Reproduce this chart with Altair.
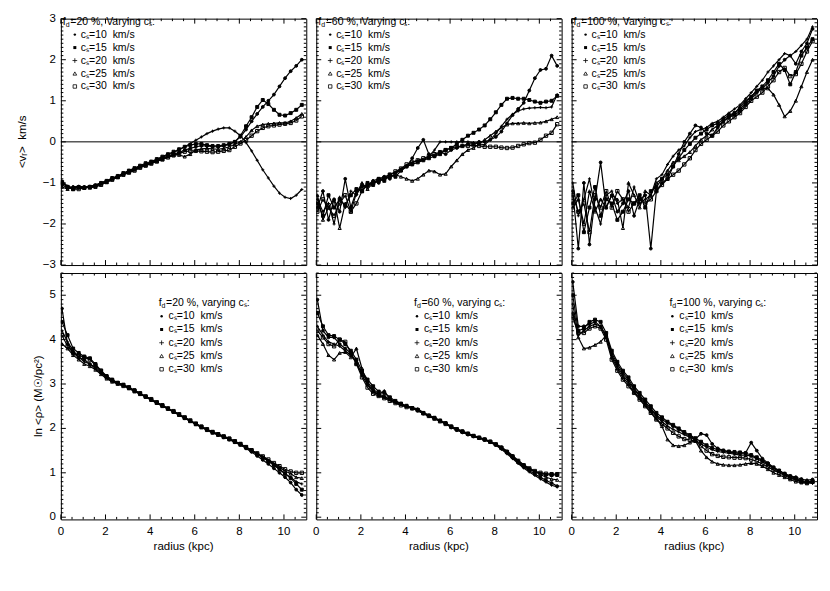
import altair as alt
import pandas as pd

FONT = "Liberation Sans"

# radius sampling (kpc)
R = [0.05, 0.30, 0.55, 0.80, 1.05, 1.30, 1.55, 1.80, 2.05, 2.30, 2.55, 2.80,
     3.05, 3.30, 3.55, 3.80, 4.05, 4.30, 4.55, 4.80, 5.05, 5.30, 5.55, 5.80,
     6.05, 6.30, 6.55, 6.80, 7.05, 7.30, 7.55, 7.80, 8.05, 8.30, 8.55, 8.80,
     9.05, 9.30, 9.55, 9.80, 10.05, 10.30, 10.55, 10.80]

SPEEDS = [10, 15, 20, 25, 30]
FDS = [20, 60, 100]

# ---------- <v_r> (km/s), f_d = 20 % ----------
VR20_10 = [-1.05, -1.12, -1.10, -1.12, -1.10, -1.10, -1.07, -1.02, -0.96, -0.90, -0.85, -0.78,
           -0.73, -0.66, -0.60, -0.56, -0.50, -0.45, -0.40, -0.35, -0.30, -0.26, -0.20, -0.16,
           -0.12, -0.10, -0.10, -0.12, -0.12, -0.10, -0.06, 0.00, 0.12, 0.30, 0.50, 0.68,
           0.85, 1.00, 1.15, 1.35, 1.55, 1.72, 1.85, 2.00]
VR20_15 = [-1.00, -1.10, -1.15, -1.10, -1.12, -1.10, -1.06, -1.00, -0.95, -0.88, -0.83, -0.76,
           -0.70, -0.64, -0.58, -0.52, -0.48, -0.42, -0.36, -0.30, -0.24, -0.18, -0.12, -0.08,
           -0.05, -0.05, -0.08, -0.10, -0.10, -0.08, -0.05, 0.00, 0.15, 0.38, 0.60, 0.85,
           1.02, 0.92, 0.78, 0.66, 0.64, 0.70, 0.78, 0.90]
VR20_20 = [-0.95, -1.08, -1.12, -1.10, -1.10, -1.08, -1.05, -1.00, -0.95, -0.90, -0.84, -0.78,
           -0.72, -0.65, -0.60, -0.55, -0.50, -0.44, -0.38, -0.32, -0.26, -0.20, -0.12, -0.04,
           0.04, 0.12, 0.20, 0.26, 0.31, 0.34, 0.34, 0.26, 0.15, -0.02, -0.22, -0.45,
           -0.68, -0.88, -1.08, -1.25, -1.35, -1.38, -1.30, -1.16]
VR20_25 = [-1.10, -1.15, -1.10, -1.08, -1.10, -1.12, -1.10, -1.05, -0.98, -0.92, -0.86, -0.80,
           -0.74, -0.68, -0.62, -0.57, -0.52, -0.47, -0.42, -0.36, -0.32, -0.32, -0.36, -0.30,
           -0.20, -0.17, -0.16, -0.17, -0.18, -0.16, -0.12, -0.06, 0.00, 0.12, 0.28, 0.38,
           0.42, 0.44, 0.45, 0.46, 0.46, 0.50, 0.58, 0.68]
VR20_30 = [-0.98, -1.10, -1.15, -1.15, -1.12, -1.10, -1.08, -1.04, -0.98, -0.92, -0.86, -0.80,
           -0.75, -0.70, -0.63, -0.58, -0.53, -0.48, -0.43, -0.38, -0.33, -0.28, -0.24, -0.22,
           -0.22, -0.23, -0.24, -0.25, -0.24, -0.22, -0.20, -0.12, -0.04, 0.04, 0.15, 0.26,
           0.34, 0.38, 0.40, 0.42, 0.44, 0.46, 0.52, 0.62]

# ---------- <v_r> (km/s), f_d = 60 % ----------
VR60_10 = [-1.6, -1.2, -1.9, -1.4, -1.7, -0.9, -1.6, -1.2, -1.1, -1.05, -0.95, -1.0,
           -0.85, -0.9, -0.75, -0.7, -0.6, -0.4, -0.15, 0.05, -0.3, -0.35, -0.25, -0.3,
           -0.2, -0.15, -0.1, -0.05, -0.05, 0.0, 0.0, 0.05, 0.12, 0.25, 0.45, 0.65,
           0.8, 0.95, 1.25, 1.55, 1.75, 1.78, 2.1, 1.85]
VR60_15 = [-1.5, -1.8, -1.3, -1.6, -1.4, -1.55, -1.3, -1.15, -1.2, -1.0, -1.05, -0.9,
           -0.95, -0.8, -0.85, -0.7, -0.6, -0.55, -0.5, -0.45, -0.4, -0.35, -0.3, -0.2,
           -0.15, -0.05, 0.05, 0.15, 0.22, 0.3, 0.4, 0.55, 0.72, 0.9, 1.05, 1.07,
           1.05, 1.05, 1.02, 0.98, 0.95, 0.98, 1.0, 1.12]
VR60_20 = [-1.4, -1.7, -1.5, -2.0, -1.35, -1.6, -1.2, -1.3, -1.05, -1.1, -0.95, -0.9,
           -0.85, -0.8, -0.75, -0.65, -0.6, -0.5, -0.45, -0.45, -0.35, -0.2, 0.0, 0.0,
           0.0, 0.0, 0.0, 0.0, -0.02, -0.05, -0.07, 0.05, 0.2, 0.38, 0.55, 0.67,
           0.75, 0.8, 0.82, 0.83, 0.84, 0.83, 0.85, 1.15]
VR60_25 = [-1.3, -1.9, -1.6, -1.4, -2.1, -1.5, -1.7, -1.25, -1.0, -1.15, -1.0, -0.95,
           -0.9, -0.85, -0.8, -0.85, -0.9, -0.95, -0.9, -0.8, -0.7, -0.72, -0.8, -0.78,
           -0.6, -0.45, -0.3, -0.2, -0.15, -0.05, 0.05, 0.15, 0.25, 0.35, 0.42, 0.45,
           0.45, 0.46, 0.45, 0.46, 0.47, 0.5, 0.55, 0.6]
VR60_30 = [-1.7, -1.4, -1.6, -1.8, -1.5, -1.3, -1.7, -1.5, -1.2, -1.05, -1.0, -0.92,
           -0.88, -0.8, -0.72, -0.65, -0.55, -0.5, -0.45, -0.4, -0.35, -0.3, -0.25, -0.2,
           -0.15, -0.12, -0.1, -0.1, -0.08, -0.1, -0.12, -0.12, -0.12, -0.14, -0.15, -0.14,
           -0.1, -0.06, -0.03, -0.02, 0.05, 0.15, 0.22, 0.43]

# ---------- <v_r> (km/s), f_d = 100 % ----------
VR100_10 = [-1.2, -2.6, -1.0, -2.5, -1.4, -0.5, -1.6, -1.3, -1.7, -1.5, -1.2, -1.8,
            -1.4, -1.3, -2.6, -1.2, -1.0, -0.9, -0.6, -0.3, 0.0, 0.2, 0.4, 0.35,
            0.2, 0.15, 0.35, 0.5, 0.6, 0.65, 0.75, 0.9, 1.05, 1.2, 1.3, 1.45,
            1.6, 1.85, 2.0, 2.1, 1.9, 2.2, 2.4, 2.75]
VR100_15 = [-1.5, -1.3, -2.2, -1.6, -1.1, -1.8, -1.4, -1.5, -1.9, -1.7, -1.4, -1.5,
            -1.3, -1.6, -1.2, -1.1, -0.9, -0.8, -0.6, -0.4, -0.2, -0.05, 0.1, 0.2,
            0.3, 0.4, 0.45, 0.55, 0.65, 0.7, 0.8, 0.95, 1.1, 1.25, 1.35, 1.5,
            1.7, 1.9, 1.75, 1.4, 1.7, 2.1, 2.3, 2.5]
VR100_20 = [-1.0, -1.8, -1.4, -0.9, -1.6, -2.0, -1.3, -1.2, -1.5, -1.4, -1.6, -1.1,
            -1.5, -1.4, -1.3, -0.9, -0.8, -0.55, -0.35, -0.2, -0.1, 0.1, 0.25, 0.3,
            0.35, 0.45, 0.5, 0.6, 0.7, 0.8, 0.9, 1.05, 1.2, 1.35, 1.5, 1.7,
            1.85, 2.0, 2.15, 2.1, 2.2, 2.35, 2.5, 2.8]
VR100_25 = [-1.6, -1.4, -2.0, -1.2, -1.7, -1.4, -1.6, -1.3, -1.4, -2.1, -1.0, -1.3,
            -1.6, -1.2, -1.3, -1.0, -0.9, -0.7, -0.5, -0.45, -0.35, -0.25, -0.1, 0.05,
            0.15, 0.3, 0.4, 0.5, 0.6, 0.7, 0.85, 1.0, 1.1, 1.25, 1.3, 1.3,
            1.15, 0.9, 0.62, 0.75, 1.0, 1.35, 1.7, 2.0]
VR100_30 = [-1.3, -1.7, -1.5, -2.2, -1.3, -1.6, -1.2, -1.6, -1.2, -1.4, -1.7, -1.5,
            -1.4, -1.5, -1.4, -1.2, -1.05, -0.9, -0.8, -0.7, -0.55, -0.4, -0.2, -0.05,
            0.05, 0.15, 0.25, 0.4, 0.5, 0.6, 0.7, 0.85, 1.0, 1.1, 1.2, 1.35,
            1.5, 1.7, 1.8, 1.6, 1.65, 1.9, 2.2, 2.45]

# ---------- ln <rho>, f_d = 20 % ----------
LR20_10 = [4.7, 3.9, 3.7, 3.6, 3.55, 3.45, 3.35, 3.25, 3.15, 3.08, 3.02, 2.97,
           2.91, 2.85, 2.78, 2.71, 2.64, 2.57, 2.51, 2.44, 2.37, 2.3, 2.23, 2.17,
           2.1, 2.03, 1.97, 1.91, 1.86, 1.8, 1.75, 1.69, 1.63, 1.55, 1.47, 1.38,
           1.29, 1.2, 1.1, 1.0, 0.9, 0.78, 0.62, 0.5]
LR20_15 = [4.4, 4.1, 3.8, 3.7, 3.62, 3.58, 3.45, 3.3, 3.18, 3.1, 3.03, 2.98,
           2.93, 2.86, 2.79, 2.72, 2.65, 2.58, 2.52, 2.45, 2.38, 2.31, 2.24, 2.17,
           2.1, 2.04, 1.98, 1.92, 1.87, 1.82, 1.77, 1.71, 1.65, 1.58, 1.5, 1.42,
           1.34, 1.26, 1.17, 1.08, 0.98, 0.88, 0.75, 0.62]
LR20_20 = [4.2, 3.95, 3.75, 3.6, 3.5, 3.45, 3.38, 3.27, 3.14, 3.06, 3.01, 2.96,
           2.91, 2.84, 2.78, 2.72, 2.65, 2.58, 2.51, 2.45, 2.38, 2.31, 2.24, 2.17,
           2.1, 2.03, 1.97, 1.91, 1.86, 1.81, 1.76, 1.7, 1.64, 1.57, 1.5, 1.42,
           1.35, 1.27, 1.18, 1.08, 0.98, 0.9, 0.8, 0.75]
LR20_25 = [3.9, 3.8, 3.65, 3.55, 3.45, 3.4, 3.32, 3.22, 3.12, 3.05, 3.0, 2.95,
           2.9, 2.83, 2.77, 2.71, 2.64, 2.57, 2.5, 2.44, 2.37, 2.3, 2.23, 2.16,
           2.09, 2.02, 1.96, 1.9, 1.85, 1.8, 1.75, 1.69, 1.63, 1.57, 1.5, 1.43,
           1.36, 1.28, 1.2, 1.12, 1.04, 0.98, 0.9, 0.88]
LR20_30 = [4.1, 3.85, 3.7, 3.65, 3.6, 3.55, 3.42, 3.3, 3.16, 3.08, 3.02, 2.98,
           2.92, 2.85, 2.79, 2.72, 2.66, 2.59, 2.52, 2.45, 2.39, 2.32, 2.25, 2.18,
           2.11, 2.04, 1.98, 1.92, 1.87, 1.82, 1.77, 1.71, 1.65, 1.58, 1.51, 1.44,
           1.37, 1.3, 1.22, 1.15, 1.08, 1.03, 1.0, 1.0]

# ---------- ln <rho>, f_d = 60 % ----------
LR60_10 = [4.9, 4.2, 4.05, 4.05, 3.9, 3.8, 3.7, 3.45, 3.25, 3.05, 2.88, 2.78,
           2.72, 2.66, 2.6, 2.55, 2.5, 2.45, 2.4, 2.34, 2.28, 2.23, 2.17, 2.11,
           2.02, 1.96, 1.91, 1.86, 1.82, 1.78, 1.74, 1.69, 1.63, 1.55, 1.45, 1.34,
           1.23, 1.13, 1.05, 0.97, 0.9, 0.83, 0.77, 0.7]
LR60_15 = [4.6, 4.3, 4.1, 4.08, 4.0, 3.9, 3.75, 3.55, 3.3, 3.1, 2.95, 2.83,
           2.8, 2.7, 2.62, 2.56, 2.51, 2.46, 2.42, 2.35, 2.29, 2.24, 2.18, 2.12,
           2.04, 1.98, 1.93, 1.88, 1.83, 1.79, 1.75, 1.7, 1.64, 1.57, 1.47, 1.36,
           1.25, 1.15, 1.08, 1.02, 0.98, 0.96, 0.95, 0.95]
LR60_20 = [4.3, 4.1, 3.95, 3.9, 3.85, 3.75, 3.65, 3.5, 3.2, 2.98, 2.82, 2.75,
           2.85, 2.65, 2.58, 2.53, 2.5, 2.47, 2.4, 2.33, 2.27, 2.22, 2.16, 2.1,
           2.03, 1.97, 1.92, 1.87, 1.82, 1.78, 1.74, 1.69, 1.62, 1.53, 1.43, 1.32,
           1.21, 1.11, 1.02, 0.94, 0.86, 0.79, 0.72, 0.68]
LR60_25 = [4.1, 3.9, 3.65, 3.55, 3.7, 3.72, 3.6, 3.8, 3.35, 3.0, 2.85, 2.75,
           2.7, 2.66, 2.6, 2.55, 2.5, 2.47, 2.44, 2.36, 2.3, 2.24, 2.18, 2.12,
           2.05, 1.99, 1.94, 1.89, 1.84, 1.8, 1.76, 1.71, 1.65, 1.58, 1.49, 1.39,
           1.28, 1.18, 1.1, 1.03, 0.96, 0.9, 0.86, 0.84]
LR60_30 = [4.2, 4.05, 3.9, 3.85, 4.0, 3.95, 3.7, 3.45, 3.15, 2.92, 2.78, 2.73,
           2.68, 2.62, 2.57, 2.52, 2.48, 2.45, 2.41, 2.34, 2.28, 2.22, 2.16, 2.1,
           2.04, 1.98, 1.93, 1.88, 1.83, 1.79, 1.75, 1.7, 1.64, 1.56, 1.47, 1.37,
           1.27, 1.17, 1.1, 1.04, 1.0, 0.98, 0.97, 0.97]

# ---------- ln <rho>, f_d = 100 % ----------
LR100_10 = [5.3, 4.3, 4.3, 4.35, 4.4, 4.3, 4.1, 3.7, 3.45, 3.25, 3.1, 2.9,
            2.75, 2.6, 2.45, 2.3, 2.2, 2.12, 2.05, 1.98, 1.9, 1.82, 1.76, 1.88,
            1.85, 1.65, 1.55, 1.5, 1.47, 1.45, 1.43, 1.45, 1.68, 1.5, 1.32, 1.22,
            1.12, 1.05, 0.98, 0.93, 0.9, 0.86, 0.83, 0.85]
LR100_15 = [5.0, 4.2, 4.25, 4.4, 4.45, 4.4, 4.15, 3.75, 3.5, 3.3, 3.15, 2.95,
            2.8, 2.65, 2.5, 2.35, 2.25, 2.15, 2.08, 2.0, 1.92, 1.85, 1.78, 1.7,
            1.62, 1.56, 1.52, 1.5, 1.48, 1.47, 1.46, 1.44, 1.4, 1.35, 1.28, 1.2,
            1.12, 1.05, 0.98, 0.92, 0.88, 0.82, 0.8, 0.8]
LR100_20 = [4.8, 4.1, 4.2, 4.3, 4.35, 4.3, 4.05, 3.65, 3.4, 3.2, 3.05, 2.88,
            2.72, 2.56, 2.42, 2.28, 2.15, 2.05, 1.98, 1.92, 1.86, 1.8, 1.74, 1.65,
            1.58, 1.52, 1.48, 1.46, 1.44, 1.42, 1.4, 1.4, 1.38, 1.32, 1.25, 1.17,
            1.1, 1.02, 0.96, 0.9, 0.85, 0.8, 0.78, 0.76]
LR100_25 = [4.6, 4.05, 3.8, 3.82, 3.88, 3.95, 4.1, 3.6, 3.35, 3.15, 3.0, 2.82,
            2.68, 2.52, 2.38, 2.22, 2.05, 1.75, 1.62, 1.6, 1.62, 1.68, 1.72, 1.5,
            1.35, 1.25, 1.2, 1.18, 1.17, 1.17, 1.18, 1.2, 1.22, 1.2, 1.15, 1.08,
            1.0, 0.95, 0.9, 0.85, 0.8, 0.78, 0.76, 0.8]
LR100_30 = [4.5, 4.15, 4.15, 4.25, 4.3, 4.25, 4.0, 3.55, 3.3, 3.1, 2.95, 2.8,
            2.65, 2.5, 2.35, 2.2, 2.1, 2.0, 1.9, 1.82, 1.76, 1.74, 1.72, 1.6,
            1.5, 1.42, 1.38, 1.36, 1.35, 1.34, 1.34, 1.33, 1.3, 1.26, 1.2, 1.13,
            1.06, 1.0, 0.94, 0.88, 0.84, 0.8, 0.78, 0.8]

VR = {20: [VR20_10, VR20_15, VR20_20, VR20_25, VR20_30],
      60: [VR60_10, VR60_15, VR60_20, VR60_25, VR60_30],
      100: [VR100_10, VR100_15, VR100_20, VR100_25, VR100_30]}
LR = {20: [LR20_10, LR20_15, LR20_20, LR20_25, LR20_30],
      60: [LR60_10, LR60_15, LR60_20, LR60_25, LR60_30],
      100: [LR100_10, LR100_15, LR100_20, LR100_25, LR100_30]}

ZERO = [0]
X_LABELS = [0, 2, 4, 6, 8, 10]
X_MAJOR = [0, 2, 4, 6, 8, 10]
X_MINOR = [0.5, 1, 1.5, 2.5, 3, 3.5, 4.5, 5, 5.5, 6.5, 7, 7.5, 8.5, 9, 9.5, 10.5]
TOP_Y_LABELS = [-3, -2, -1, 0, 1, 2, 3]
BOT_Y_LABELS = [0, 1, 2, 3, 4, 5]
TOP_Y_MINOR = [round(k * 0.1, 1) for k in range(-30, 31) if k % 10 != 0]
BOT_Y_MINOR = [round(k * 0.1, 1) for k in range(0, 56) if k % 10 != 0]
X_TITLE = "radius (kpc)"
TOP_Y_TITLE = "<vᵣ>\u00a0\u00a0km/s"
BOT_Y_TITLE = "ln\u00a0<ρ>\u00a0(M☉/pc²)"

SHAPES = ["circle", "square", "M-1,0L1,0M0,-1L0,1", "triangle-up", "square"]
FILLS = ["black", "black", "transparent", "transparent", "transparent"]
SIZES = [8, 11, 24, 16, 14]

W, H = 246, 247
LEG_FS = 10.5
AX_FS = 11.5
NB = "\u00a0"


def txt(s, x, y, size=LEG_FS, align="left", angle=0):
    return alt.Chart(pd.DataFrame({"s": [s]})).mark_text(
        align=align, baseline="middle", fontSize=size, font=FONT, color="black",
        angle=angle
    ).encode(text="s:N", x=alt.value(x), y=alt.value(y))


def legend_layers(x0, y0, dy, word, fd, mx, tx):
    L = [txt("f", x0, y0), txt("d", x0 + 3, y0 + 3, 7),
         txt(f"={fd}{NB}%,{NB}{word}{NB}cₛ:", x0 + 7.5, y0)]
    for k, cs in enumerate(SPEEDS):
        y = y0 + dy * (k + 1)
        L.append(alt.Chart(pd.DataFrame({"s": [cs]})).mark_point(
            shape=SHAPES[k], size=SIZES[k] - 2, filled=(k < 2), color="black",
            opacity=1, strokeWidth=0.8).encode(x=alt.value(x0 + mx), y=alt.value(y)))
        L.append(txt(f"cₛ={cs}{NB}{NB}km/s", x0 + tx, y))
    return L


def tick_layers(xs, ys, ymaj, ymin):
    L = []
    for vals, ln in ((X_MAJOR, 5), (X_MINOR, 2.5)):
        c = alt.Chart(pd.DataFrame({"r": vals}))
        ex = alt.X("r:Q", scale=xs, axis=None)
        L.append(c.mark_rule(color="black", strokeWidth=1).encode(
            x=ex, y=alt.value(H), y2=alt.value(H - ln)))
        L.append(c.mark_rule(color="black", strokeWidth=1).encode(
            x=ex, y=alt.value(0), y2=alt.value(ln)))
    for vals, ln in ((ymaj, 5), (ymin, 2.5)):
        c = alt.Chart(pd.DataFrame({"v": vals}))
        ey = alt.Y("v:Q", scale=ys, axis=None)
        L.append(c.mark_rule(color="black", strokeWidth=1).encode(
            y=ey, x=alt.value(0), x2=alt.value(ln)))
        L.append(c.mark_rule(color="black", strokeWidth=1).encode(
            y=ey, x=alt.value(W), x2=alt.value(W - ln)))
    return L


def minus(v):
    return str(v).replace("-", "\u2212")


def panel(fd, col, top):
    series = VR[fd] if top else LR[fd]
    rows = []
    for cs, vals in zip(SPEEDS, series):
        for r, v in zip(R, vals):
            rows.append({"r": r, "v": v, "cs": cs})
    df = pd.DataFrame(rows)
    xs = alt.Scale(domain=[0, 11], nice=False, zero=False)
    ys = alt.Scale(domain=[-3, 3] if top else [-0.05, 5.5], nice=False, zero=False)

    base = alt.Chart(df).encode(
        x=alt.X("r:Q", scale=xs, axis=None),
        y=alt.Y("v:Q", scale=ys, axis=None),
    )
    lines = base.mark_line(color="black", strokeWidth=1.2, clip=True).encode(
        detail="cs:N")
    pts = base.mark_point(opacity=1, strokeWidth=1, clip=True).encode(
        shape=alt.Shape("cs:O", scale=alt.Scale(domain=SPEEDS, range=SHAPES), legend=None),
        fill=alt.Fill("cs:O", scale=alt.Scale(domain=SPEEDS, range=FILLS), legend=None),
        size=alt.Size("cs:O", scale=alt.Scale(domain=SPEEDS, range=SIZES), legend=None),
        stroke=alt.value("black"),
    )
    layers = [lines, pts]
    if top:
        layers.append(alt.Chart(pd.DataFrame({"v": ZERO})).mark_rule(
            color="black", strokeWidth=1).encode(y=alt.Y("v:Q", scale=ys, axis=None)))
        layers += tick_layers(xs, ys, TOP_Y_LABELS, TOP_Y_MINOR)
        layers += legend_layers(2, 3, 13, "Varying", fd, 12, 18)
    else:
        layers += tick_layers(xs, ys, BOT_Y_LABELS, BOT_Y_MINOR)
        layers += legend_layers(98, 30, 13.3, "varying", fd, 3, 10)
        xl = pd.DataFrame({"r": X_LABELS, "lab": [str(v) for v in X_LABELS]})
        layers.append(alt.Chart(xl).mark_text(
            align="center", baseline="middle", fontSize=AX_FS, font=FONT, color="black"
        ).encode(x=alt.X("r:Q", scale=xs, axis=None), y=alt.value(H + 13), text="lab:N"))
        layers.append(txt(X_TITLE, W / 2, H + 28, AX_FS, "center"))
    if col == 0:
        yv = TOP_Y_LABELS if top else BOT_Y_LABELS
        yl = pd.DataFrame({"v": yv, "lab": [minus(v) for v in yv]})
        layers.append(alt.Chart(yl).mark_text(
            align="right", baseline="middle", fontSize=AX_FS, font=FONT, color="black"
        ).encode(y=alt.Y("v:Q", scale=ys, axis=None), x=alt.value(-5), text="lab:N"))
        if top:
            layers.append(txt(TOP_Y_TITLE, -38, H / 2, AX_FS, "center", 270))
        else:
            layers.append(txt(BOT_Y_TITLE, -22, H / 2, AX_FS, "center", 270))
    return alt.layer(*layers).properties(width=W, height=H)


panels = [panel(fd, i, True) for i, fd in enumerate(FDS)] + \
         [panel(fd, i, False) for i, fd in enumerate(FDS)]

chart = alt.concat(*panels, columns=3, spacing={"row": 8, "column": 10},
                   bounds="flush").properties(
    padding={"left": 8, "top": 3, "right": 4, "bottom": 5},
    background="white",
).configure_view(stroke="black", strokeWidth=1)

chart.save("out.html", embed_options={"renderer": "svg", "actions": False})
